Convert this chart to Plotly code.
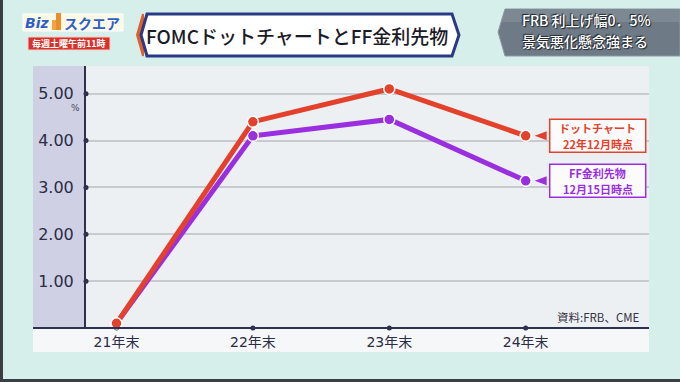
import plotly.graph_objects as go

# ---------------- data ----------------
categories = ["21年末", "22年末", "23年末", "24年末"]
dot_chart = [0.1, 4.4, 5.1, 4.1]          # FOMC dot chart (Dec 2022)
ff_futures = [0.1, 4.1, 4.45, 3.14]       # FF futures (Dec 15)
y_ticks = [1, 2, 3, 4, 5]
y_tick_labels = ["1.00", "2.00", "3.00", "4.00", "5.00"]
series_labels = [["ドットチャート", "22年12月時点"], ["FF金利先物", "12月15日時点"]]
title_text = "FOMCドットチャートとFF金利先物"
headline = ["FRB 利上げ幅0．5%", "景気悪化懸念強まる"]
source_text = "資料:FRB、CME"
logo_top = ["Biz", "スクエア"]
logo_sub = "毎週土曜午前11時"

# ---------------- geometry helpers ----------------
W, H = 680, 382
def px(x): return x / W
def py(y): return 1 - y / H

X_RANGE = [-0.2236, 3.904]
Y_RANGE = [0, 5.59]
xs = list(range(len(categories)))

RED = "#e4412c"
PURPLE = "#9a2fe0"
NAVY = "#2e3050"
CJK = "Noto Sans CJK JP"
NUM = "DejaVu Sans, Noto Sans CJK JP"

fig = go.Figure()

# axis dots
fig.add_trace(go.Scatter(x=xs, y=[0] * len(xs), mode="markers",
                         marker=dict(size=5, color=NAVY), cliponaxis=False,
                         hoverinfo="skip", showlegend=False))
fig.add_trace(go.Scatter(x=[X_RANGE[0]] * len(y_ticks), y=y_ticks, mode="markers",
                         marker=dict(size=5, color=NAVY), cliponaxis=False,
                         hoverinfo="skip", showlegend=False))

# series (purple under red)
for vals, col in [(ff_futures, PURPLE), (dot_chart, RED)]:
    fig.add_trace(go.Scatter(
        x=xs, y=vals, mode="lines+markers",
        line=dict(color=col, width=5),
        marker=dict(size=11, color=col, line=dict(color="white", width=1.5)),
        cliponaxis=False, hoverinfo="skip", showlegend=False))

shapes = []
# left dark edge and bottom dark edge
shapes.append(dict(type="rect", xref="paper", yref="paper", x0=px(0), x1=px(3),
                   y0=py(382), y1=py(0), fillcolor="#3a3f44", line_width=0, layer="below"))
shapes.append(dict(type="rect", xref="paper", yref="paper", x0=px(0), x1=px(680),
                   y0=py(382), y1=py(379), fillcolor="#3a3f44", line_width=0, layer="below"))
# chart panel
shapes.append(dict(type="rect", xref="paper", yref="paper", x0=px(33), x1=px(649),
                   y0=py(352), y1=py(66), fillcolor="#f6f7f8", line_width=0, layer="below"))
shapes.append(dict(type="rect", xref="paper", yref="paper", x0=px(86), x1=px(649),
                   y0=py(328), y1=py(66), fillcolor="#edf0f2", line_width=0, layer="below"))
shapes.append(dict(type="rect", xref="paper", yref="paper", x0=px(33), x1=px(85),
                   y0=py(328), y1=py(66), fillcolor="#cfd0e3", line_width=0, layer="below"))
# x axis line across panel
shapes.append(dict(type="line", xref="paper", yref="paper", x0=px(33), x1=px(649),
                   y0=py(328), y1=py(328), line=dict(color=NAVY, width=2), layer="above"))

annotations = []
# pointer triangles + label boxes anchored to series ends
for vals, col, lines in [(dot_chart, RED, series_labels[0]), (ff_futures, PURPLE, series_labels[1])]:
    shapes.append(dict(type="path", xref="x", yref="y", xsizemode="pixel", ysizemode="pixel",
                       xanchor=xs[-1], yanchor=vals[-1],
                       path="M 9 0 L 21 4.5 L 21 -4.5 Z", fillcolor=col, line_width=0))
    shapes.append(dict(type="rect", xref="x", yref="y", xsizemode="pixel", ysizemode="pixel",
                       xanchor=xs[-1], yanchor=vals[-1], x0=24, x1=120, y0=-16.5, y1=16.5,
                       fillcolor="#fbfbfc", line=dict(color=col, width=1.5)))
    for shift, txt in zip([8, -8], lines):
        annotations.append(dict(
            x=xs[-1], y=vals[-1], xref="x", yref="y", xanchor="center", yanchor="middle",
            xshift=72, yshift=shift, text=f"<b>{txt}</b>", showarrow=False,
            font=dict(family=CJK, size=11, color=col)))

# ---------------- header ----------------
# logo
shapes.append(dict(type="rect", xref="paper", yref="paper", x0=px(23), x1=px(123),
                   y0=py(31), y1=py(14), fillcolor="#fbf8e4", line=dict(color="#ffffff", width=1)))
shapes.append(dict(type="rect", xref="paper", yref="paper", x0=px(56), x1=px(61),
                   y0=py(30), y1=py(13), fillcolor="#e98e2b", line_width=0))
shapes.append(dict(type="rect", xref="paper", yref="paper", x0=px(52), x1=px(56),
                   y0=py(30), y1=py(20), fillcolor="#f0a640", line_width=0))
shapes.append(dict(type="rect", xref="paper", yref="paper", x0=px(28), x1=px(110),
                   y0=py(50), y1=py(37), fillcolor="#d8322b", line=dict(color="#f3d0cc", width=1)))
# title box
shapes.append(dict(type="path", xref="paper", yref="paper",
                   path=f"M {px(137)} {py(35)} L {px(143)} {py(14)} L {px(143)} {py(56)} Z",
                   fillcolor="#e0602a", line=dict(color="#e0602a", width=2)))
shapes.append(dict(type="path", xref="paper", yref="paper",
                   path=(f"M {px(141)} {py(35)} L {px(147)} {py(14)} L {px(452)} {py(14)} "
                         f"L {px(459)} {py(35)} L {px(452)} {py(56)} L {px(147)} {py(56)} Z"),
                   fillcolor="#ffffff", line=dict(color="#2b3a87", width=3)))
# right headline box
shapes.append(dict(type="path", xref="paper", yref="paper",
                   path=(f"M {px(498)} {py(32)} L {px(505)} {py(9)} L {px(680)} {py(9)} "
                         f"L {px(680)} {py(56)} L {px(505)} {py(56)} Z"),
                   fillcolor="#6e7a85", line=dict(color="#8d99a3", width=1)))
shapes.append(dict(type="path", xref="paper", yref="paper",
                   path=(f"M {px(501)} {py(22)} L {px(505)} {py(10)} L {px(680)} {py(10)} "
                         f"L {px(680)} {py(22)} Z"),
                   fillcolor="#86929c", line_width=0, opacity=0.6))


def label(x, y, text, font, xanchor="center"):
    annotations.append(dict(x=px(x), y=py(y), xref="paper", yref="paper",
                            xanchor=xanchor, yanchor="middle", text=text,
                            showarrow=False, font=font))


label(75, 108, "%", dict(family=NUM, size=9, color="#4a4b60"))
label(642, 317, source_text, dict(family=CJK, size=11.5, color="#333344"), xanchor="right")
label(37, 22.5, f"<b><i>{logo_top[0]}</i></b>",
      dict(family="DejaVu Sans", size=14, color="#2d5fc4", shadow="1px 1px 0px #ffffff"))
label(92, 22.5, f"<b>{logo_top[1]}</b>",
      dict(family=CJK, size=14, color="#2d5fc4", shadow="1px 1px 0px #ffffff"))
label(69, 43.5, f"<b>{logo_sub}</b>", dict(family=CJK, size=9, color="#ffffff"))
label(297, 35, title_text, dict(family=CJK, size=19, color="#1b1b28", weight=500))
hl_font = dict(family=CJK, size=14, color="#ffffff", weight=500,
               shadow="1px 1px 1px #1e2328, -1px -1px 1px #1e2328")
label(586, 20, headline[0], hl_font)
label(585, 40.5, headline[1], hl_font)

fig.update_layout(
    width=W, height=H, margin=dict(l=0, r=0, t=0, b=0, autoexpand=False),
    paper_bgcolor="#d6efeb", plot_bgcolor="rgba(0,0,0,0)",
    showlegend=False, shapes=shapes, annotations=annotations,
    xaxis=dict(domain=[px(86), px(649)], range=X_RANGE, tickmode="array",
               tickvals=xs, ticktext=categories, showgrid=False, zeroline=False,
               showline=False, ticks="", ticklabelstandoff=4,
               tickfont=dict(family=NUM, size=14, color="#2b2c45")),
    yaxis=dict(domain=[py(328), py(66)], range=Y_RANGE, tickmode="array",
               tickvals=y_ticks, ticktext=y_tick_labels, showgrid=True,
               gridcolor="#c7cbd0", gridwidth=1.5, zeroline=False,
               showline=True, linecolor=NAVY, linewidth=2, ticks="",
               ticklabelstandoff=7,
               tickfont=dict(family=NUM, size=16, color="#2b2c45")),
)

fig.write_html("out.html", config={"displayModeBar": False},
               post_script="document.body.style.margin='0';")
